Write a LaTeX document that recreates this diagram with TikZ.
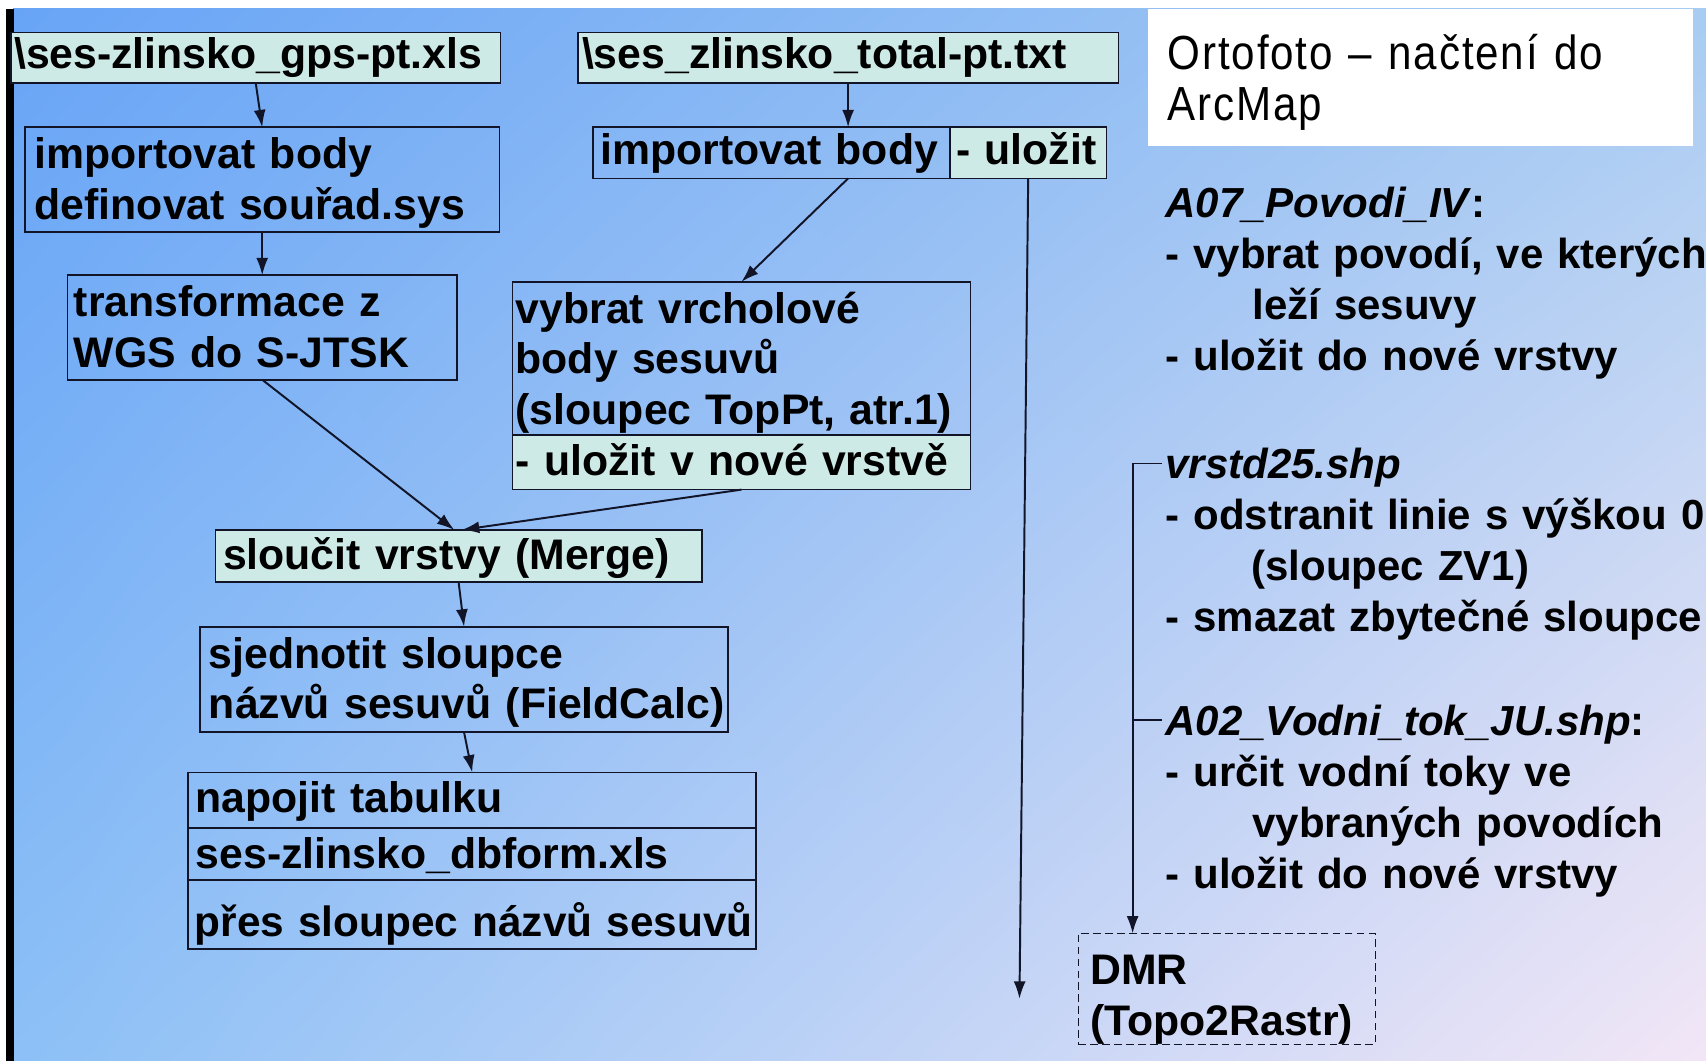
\documentclass[tikz,border=0pt]{standalone}
\usepackage{fontspec}
\setmainfont{Liberation Sans}
\newfontfamily\ortofont[FakeStretch=0.88,LetterSpace=4]{Liberation Sans}
\usetikzlibrary{arrows.meta,calc,shadings}
\definecolor{lc}{RGB}{18,20,40}
\definecolor{cy}{RGB}{206,234,231}
\definecolor{gul}{RGB}{104,164,246}
\definecolor{gur}{RGB}{168,204,242}
\definecolor{gll}{RGB}{140,192,246}
\definecolor{glr}{RGB}{242,230,246}
\newcommand\bfsz{\fontsize{39.3}{46.6}\selectfont\bfseries}
\newcommand\rbfsz{\fontsize{38.6}{46.8}\selectfont\bfseries}
\begin{document}
\begin{tikzpicture}[x=1pt,y=-1pt,
  box/.style={draw=lc,line width=1.5pt,anchor=north west,align=left,inner ysep=0pt,outer sep=0pt,font=\bfsz},
  arr/.style={draw=lc,line width=1.8pt,-{Latex[length=16pt,width=11pt]}},
  rtext/.style={anchor=base west,align=left,inner sep=0pt,text width=495pt,font=\rbfsz}]
\useasboundingbox (0,0) rectangle (1568,975);
% background
\shade[upper left=gul,upper right=gur,lower left=gll,lower right=glr] (12,8) rectangle (1568,975);
\fill[black] (5.5,8) rectangle (12.5,975);

% left column
\node[box,fill=cy,inner xsep=3pt,text width=444pt,text height=33pt,text depth=13pt] (A) at (10,30)
  {\mbox{\textbackslash ses-zlinsko\_gps-pt.xls}};
\node[box,inner xsep=9pt,text width=418pt,text height=38pt,text depth=58pt] (B) at (23,117)
  {\mbox{importovat body}\\\mbox{definovat souřad.sys}};
\node[box,inner xsep=6pt,text width=346pt,text height=38pt,text depth=58pt] (C) at (62,253)
  {\mbox{transformace z}\\\mbox{WGS do S-JTSK}};

% middle column
\node[box,fill=cy,inner xsep=4pt,text width=489pt,text height=33pt,text depth=13pt] (D) at (531,30)
  {\mbox{\textbackslash ses\_zlinsko\_total-pt.txt}};
\node[box,inner xsep=7pt,text width=314pt,text height=34pt,text depth=13pt] (E) at (545,117)
  {\mbox{importovat body}};
\node[box,fill=cy,inner xsep=6pt,text width=132pt,text height=34pt,text depth=13pt] (F) at (873,117)
  {\mbox{- uložit}};
\node[box,inner xsep=3pt,text width=415pt,text height=38pt,text depth=103pt] (G) at (471,259)
  {\mbox{vybrat vrcholové}\\\mbox{body sesuvů}\\\mbox{(sloupec TopPt, atr.1)}};
\node[box,fill=cy,inner xsep=3pt,text width=415pt,text height=37pt,text depth=13pt] (H) at (471,400)
  {\mbox{- uložit v nové vrstvě}};

% lower chain
\node[box,fill=cy,inner xsep=7pt,text width=433pt,text height=36pt,text depth=12pt] (I) at (198,487)
  {\mbox{sloučit vrstvy (Merge)}};
\node[box,inner xsep=8pt,text width=469pt,text height=38pt,text depth=59pt] (J) at (184,576)
  {\mbox{sjednotit sloupce}\\\mbox{názvů sesuvů (FieldCalc)}};
\node[box,inner xsep=7pt,text width=508pt,text height=37pt,text depth=14pt] (K1) at (173,710)
  {\mbox{napojit tabulku}};
\node[box,inner xsep=7pt,text width=508pt,text height=37pt,text depth=11pt] (K2) at (173,761)
  {\mbox{ses-zlinsko\_dbform.xls}};
\node[box,inner xsep=6pt,text width=510pt,text height=52pt,text depth=11pt] (K3) at (173,809)
  {\mbox{\fontsize{38.9}{46.6}\selectfont přes sloupec názvů sesuvů}};

% right side
\node[anchor=north west,fill=white,inner ysep=0pt,inner xsep=18pt,outer sep=0pt,text width=465pt,
  text height=56pt,text depth=70pt,align=left,font=\ortofont\fontsize{44}{47}\selectfont] (W) at (1055,8)
  {Ortofoto – načtení do\\ArcMap};
\node[rtext] (R1) at (1071,200)
  {\mbox{\textit{A07\_Povodi\_IV}:}\\\mbox{- vybrat povodí, ve kterých}\\\mbox{\hspace*{80pt}leží sesuvy}\\\mbox{- uložit do nové vrstvy}};
\node[rtext] (R2) at (1071,440)
  {\mbox{\textit{vrstd25.shp}}\\\mbox{- odstranit linie s výškou 0}\\\mbox{\hspace*{79pt}(sloupec ZV1)}\\\mbox{- smazat zbytečné sloupce}};
\node[rtext] (R3) at (1071,676)
  {\mbox{\textit{A02\_Vodni\_tok\_JU.shp}:}\\\mbox{- určit vodní toky ve}\\\mbox{\hspace*{80pt}vybraných povodích}\\\mbox{- uložit do nové vrstvy}};
\node[box,dash pattern=on 7pt off 4pt,line width=1.2pt,inner xsep=11pt,text width=251pt,text height=47pt,text depth=55pt] (DMR) at (991,858)
  {\mbox{DMR}\\\mbox{(Topo2Rastr)}};

% connectors
\coordinate (t1) at (1068,426);
\coordinate (t2) at (1068,662);
\coordinate (v) at (1041,426);
\coordinate (lend) at (937,918);
\draw[arr] (A.south) -- (B.north);
\draw[arr] (B.south) -- (C.north);
\draw[arr] (D.south) -- (D.south |- E.north);
\draw[arr] (E.south -| D.south) -- (G.north);
\draw[arr] (F.south) -- (lend);
\draw[arr] (C.south) -- ($(I.north)+(-4,0)$);
\draw[arr] (H.south) -- ($(I.north)+(3,0)$);
\draw[arr] (I.south) -- (J.north);
\draw[arr] (J.south) -- (K1.north);
\draw[arr] (t1) -- (v) -- (v |- DMR.north);
\draw[draw=lc,line width=1.8pt] (t2) -- (t2 -| v);
\end{tikzpicture}
\end{document}
